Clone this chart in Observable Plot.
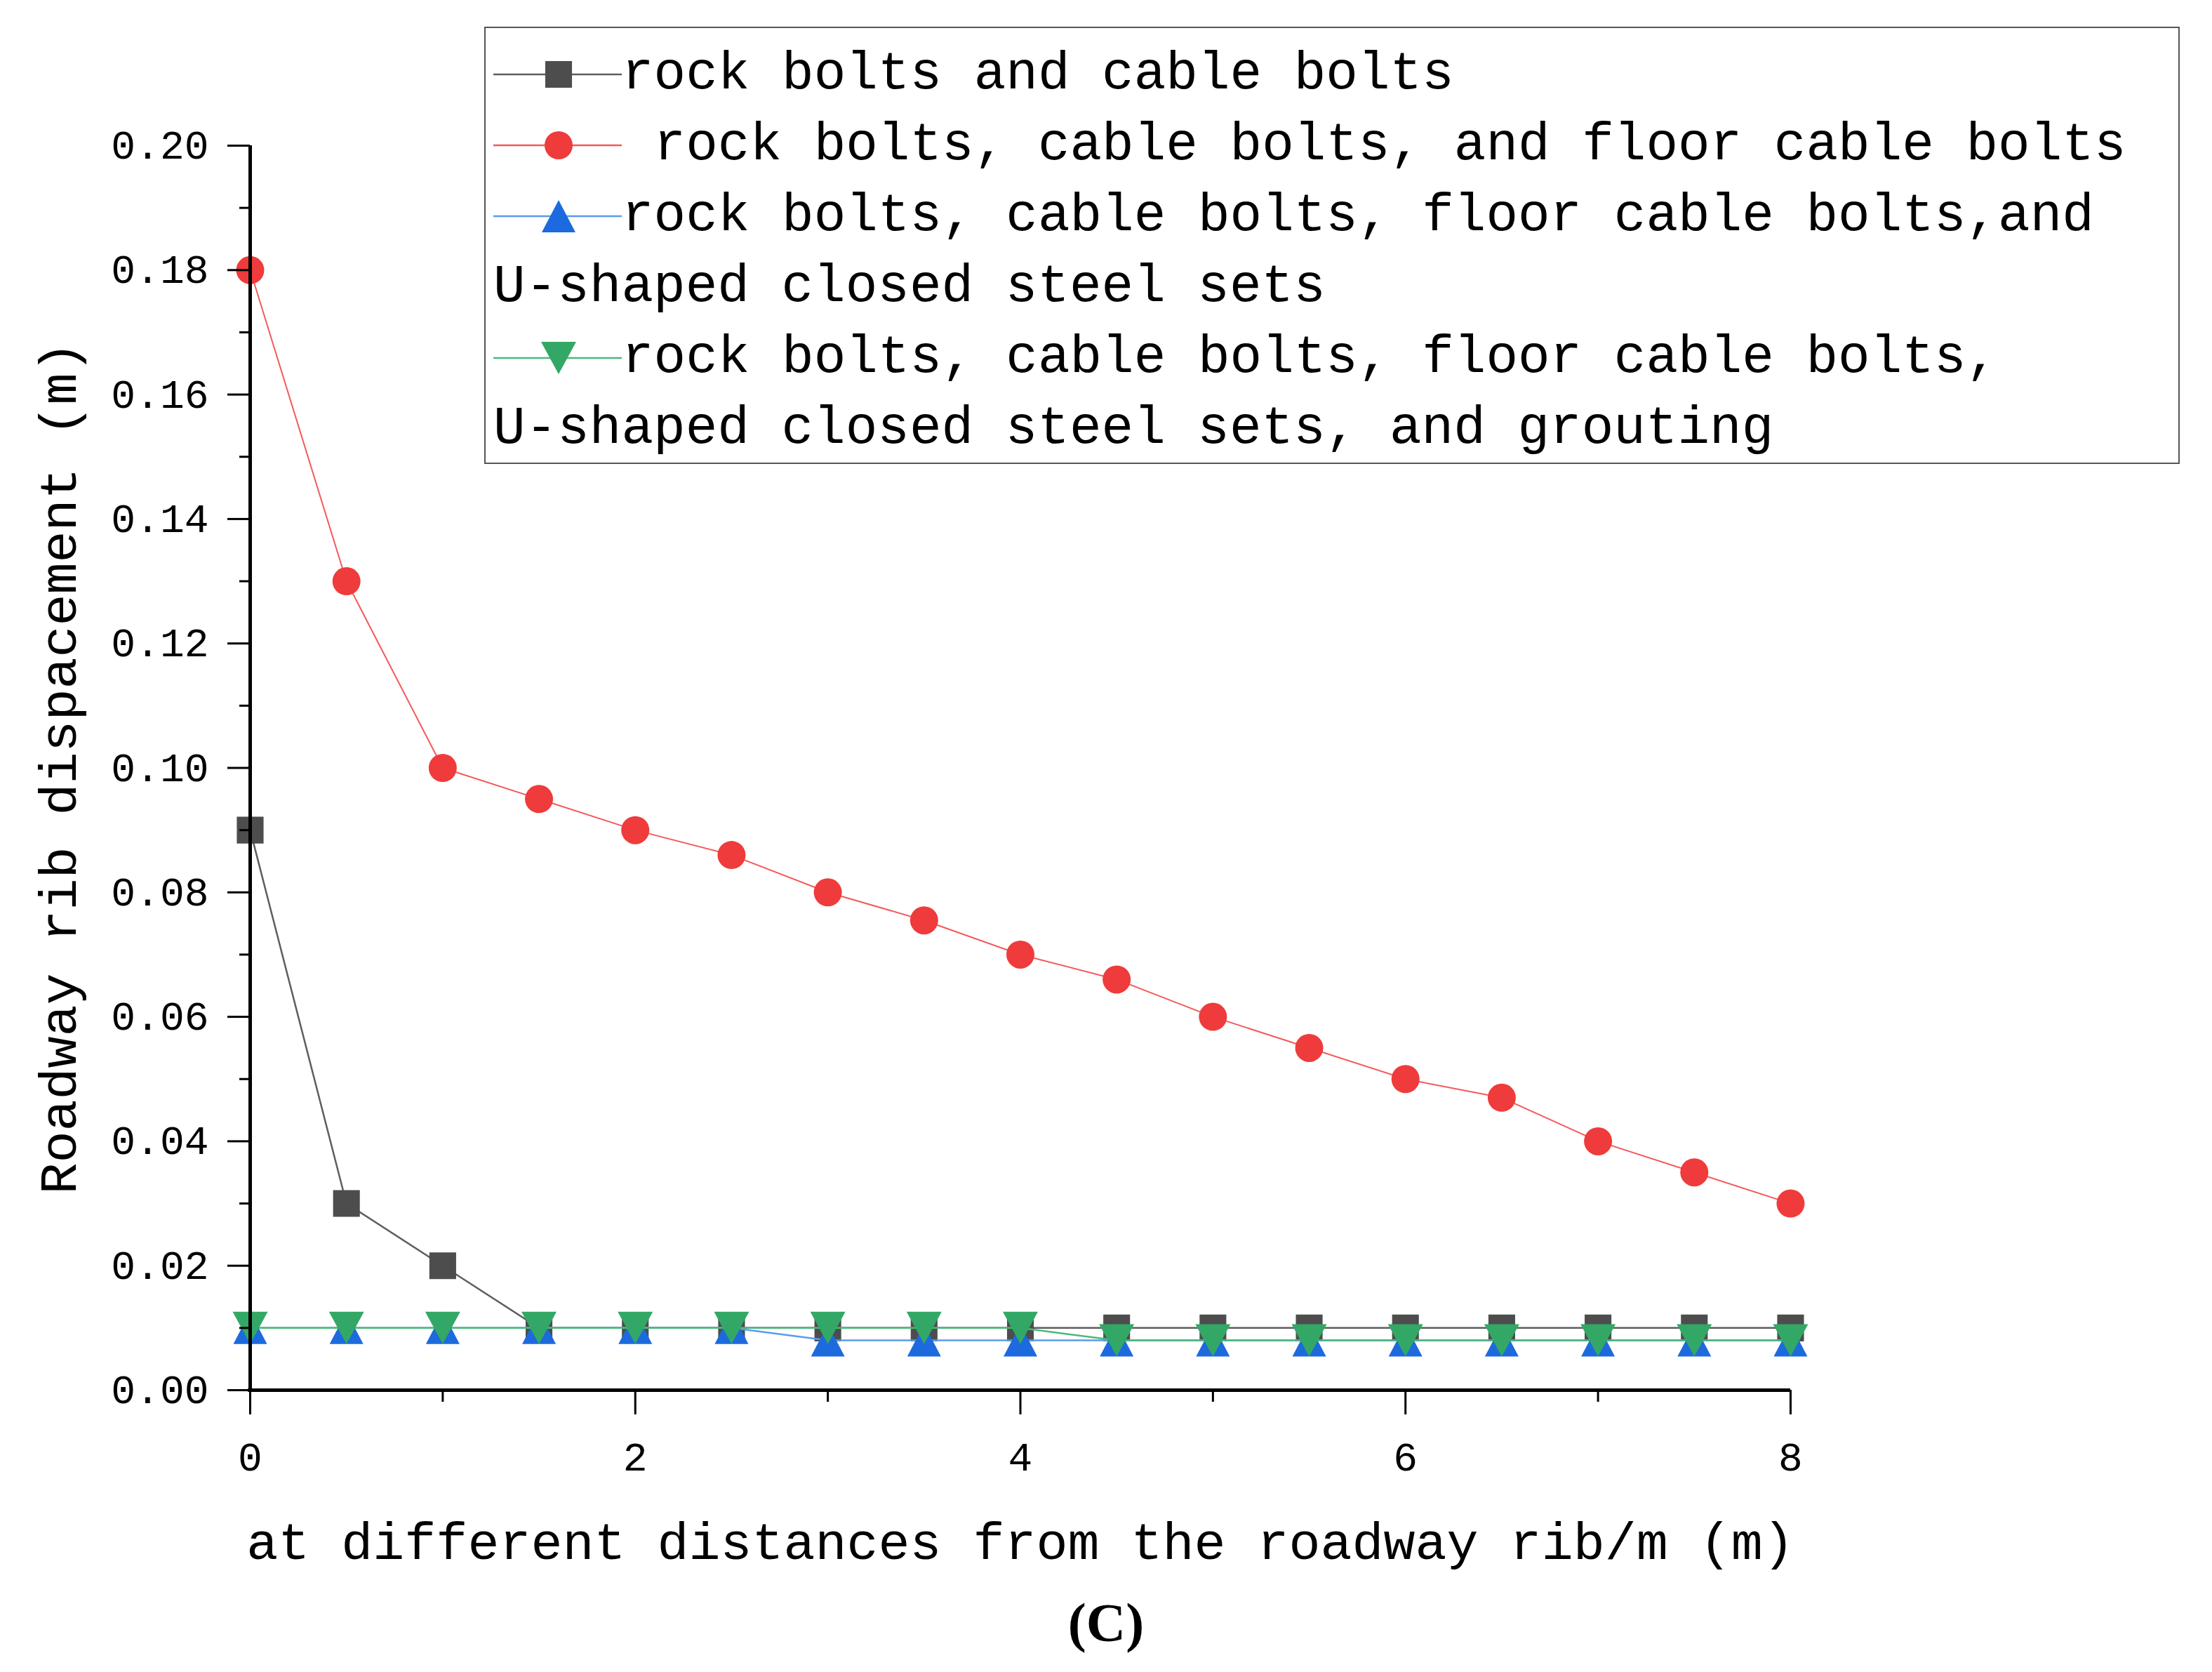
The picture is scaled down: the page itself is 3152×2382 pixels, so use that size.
<!DOCTYPE html>
<html>
<head>
<meta charset="utf-8">
<script src="https://cdn.jsdelivr.net/npm/d3@7"></script>
<script src="https://cdn.jsdelivr.net/npm/@observablehq/plot@0.6"></script>
<style>
  html, body { margin: 0; padding: 0; background: #fff; }
  body { width: 3152px; height: 2382px; overflow: hidden; position: relative; font-family: "Liberation Mono", monospace; }
  #chart { position: absolute; left: 0; top: 0; }
  #legend { position: absolute; left: 690px; top: 38px; width: 2412px; height: 604px; border: 2px solid #555; box-sizing: content-box; padding-top: 15px; }
  .row { height: 101px; display: flex; align-items: center; font-size: 76px; white-space: pre; color: #000; padding-left: 11px; }
  .row svg { flex: none; }
  #caption { position: absolute; left: 0; width: 3152px; top: 2262px; text-align: center; font-family: "Liberation Serif", serif; font-weight: bold; font-size: 78px; line-height: 100px; }
</style>
</head>
<body>
<div id="chart"></div>
<div id="legend"></div>
<div id="caption">(C)</div>
<script>
// ---- data ----
const distance = [0, 0.5, 1, 1.5, 2, 2.5, 3, 3.5, 4, 4.5, 5, 5.5, 6, 6.5, 7, 7.5, 8];
const boltsCable = [0.09, 0.03, 0.02, 0.01, 0.01, 0.01, 0.01, 0.01, 0.01, 0.01, 0.01, 0.01, 0.01, 0.01, 0.01, 0.01, 0.01];
const boltsCableFloor = [0.18, 0.13, 0.10, 0.095, 0.09, 0.086, 0.08, 0.0755, 0.07, 0.066, 0.06, 0.055, 0.05, 0.047, 0.04, 0.035, 0.03];
const withSteelSets = [0.01, 0.01, 0.01, 0.01, 0.01, 0.01, 0.008, 0.008, 0.008, 0.008, 0.008, 0.008, 0.008, 0.008, 0.008, 0.008, 0.008];
const withGrouting = [0.01, 0.01, 0.01, 0.01, 0.01, 0.01, 0.01, 0.01, 0.01, 0.008, 0.008, 0.008, 0.008, 0.008, 0.008, 0.008, 0.008];
const seriesNames = [
  "rock bolts and cable bolts",
  " rock bolts, cable bolts, and floor cable bolts",
  "rock bolts, cable bolts, floor cable bolts,and\nU-shaped closed steel sets",
  "rock bolts, cable bolts, floor cable bolts,\nU-shaped closed steel sets, and grouting"
];
const yMajorTicks = [0, 0.02, 0.04, 0.06, 0.08, 0.10, 0.12, 0.14, 0.16, 0.18, 0.20];
const yMinorTicks = [0.01, 0.03, 0.05, 0.07, 0.09, 0.11, 0.13, 0.15, 0.17, 0.19];
const xMajorTicks = [0, 2, 4, 6, 8];
const xMinorTicks = [1, 3, 5, 7];
const xTitle = "at different distances from the roadway rib/m (m)";
const yTitle = "Roadway rib dispacement (m)";

// ---- styles ----
const lineColors = ["#5e5e5e", "#f35a5a", "#5b9ceb", "#4cb87c"];
const markColors = ["#4d4d4d", "#ef3b3b", "#1c6ade", "#33a866"];

const triUp = { draw(ctx, size) { const r = Math.sqrt(size / Math.PI); const w = r * 1.2, h = r * 2.3;
  ctx.moveTo(0, -h / 2); ctx.lineTo(w, h / 2); ctx.lineTo(-w, h / 2); ctx.closePath(); } };
const triDown = { draw(ctx, size) { const r = Math.sqrt(size / Math.PI); const w = r * 1.25, h = r * 2.3;
  ctx.moveTo(0, h / 2); ctx.lineTo(w, -h / 2); ctx.lineTo(-w, -h / 2); ctx.closePath(); } };
const symbols = ["square", "circle", triUp, triDown];
const radii = [21.5, 20, 20, 20];

const allSeries = [boltsCable, boltsCableFloor, withSteelSets, withGrouting];
const tables = allSeries.map(vals => distance.map((x, i) => ({x, y: vals[i]})));

const marks = [];
tables.forEach((t, k) => {
  marks.push(Plot.line(t, {x: "x", y: "y", stroke: lineColors[k], strokeWidth: k === 1 ? 2 : 2.5}));
  marks.push(Plot.dot(t, {x: "x", y: "y", symbol: symbols[k], r: radii[k], fill: markColors[k]}));
});

// axes
marks.push(Plot.axisY(yMajorTicks, {tickSize: 32, tickPadding: 27, strokeWidth: 3, tickFormat: d => d.toFixed(2), fontSize: 58, label: null}));
marks.push(Plot.axisY(yMinorTicks, {tickSize: 15, strokeWidth: 3, tickFormat: () => "", label: null}));
marks.push(Plot.axisY([], {label: yTitle, labelAnchor: "center", labelArrow: "none", labelOffset: 302, fontSize: 75, tickSize: 0}));
marks.push(Plot.axisX(xMajorTicks, {tickSize: 35, tickPadding: 38, strokeWidth: 3, tickFormat: d => String(d), fontSize: 58, label: null}));
marks.push(Plot.axisX(xMinorTicks, {tickSize: 17, strokeWidth: 3, tickFormat: () => "", label: null}));
marks.push(Plot.axisX([], {label: xTitle, labelAnchor: "center", labelArrow: "none", labelOffset: 240, fontSize: 75, tickSize: 0}));
marks.push(Plot.ruleX([0], {y1: 0, y2: 0.2, strokeWidth: 5, stroke: "#000"}));
marks.push(Plot.ruleY([0], {x1: -0.01, x2: 8, strokeWidth: 5, stroke: "#000"}));

const chart = Plot.plot({
  width: 3152,
  height: 2250,
  marginLeft: 356,
  marginRight: 601,
  marginTop: 207,
  marginBottom: 270,
  style: {fontFamily: "Liberation Mono, monospace", color: "#000", background: "transparent"},
  x: {domain: [0, 8]},
  y: {domain: [0, 0.2]},
  marks
});
document.getElementById("chart").appendChild(chart);

// ---- legend ----
const legend = document.getElementById("legend");
const ns = "http://www.w3.org/2000/svg";
seriesNames.forEach((name, k) => {
  const lines = name.split("\n");
  lines.forEach((txt, j) => {
    const row = document.createElement("div");
    row.className = "row";
    if (j === 0) {
      const svg = document.createElementNS(ns, "svg");
      svg.setAttribute("width", 183); svg.setAttribute("height", 60);
      const ln = document.createElementNS(ns, "line");
      ln.setAttribute("x1", 0); ln.setAttribute("x2", 183); ln.setAttribute("y1", 30); ln.setAttribute("y2", 30);
      ln.setAttribute("stroke", lineColors[k]); ln.setAttribute("stroke-width", 2.5);
      svg.appendChild(ln);
      const p = document.createElementNS(ns, "path");
      const sym = typeof symbols[k] === "string" ? (symbols[k] === "square" ? d3.symbolSquare : d3.symbolCircle) : symbols[k];
      p.setAttribute("d", d3.symbol(sym, Math.PI * radii[k] * radii[k])());
      p.setAttribute("transform", "translate(93,30)");
      p.setAttribute("fill", markColors[k]);
      svg.appendChild(p);
      row.appendChild(svg);
    }
    const span = document.createElement("span");
    span.textContent = txt;
    row.appendChild(span);
    legend.appendChild(row);
  });
});
</script>
</body>
</html>
